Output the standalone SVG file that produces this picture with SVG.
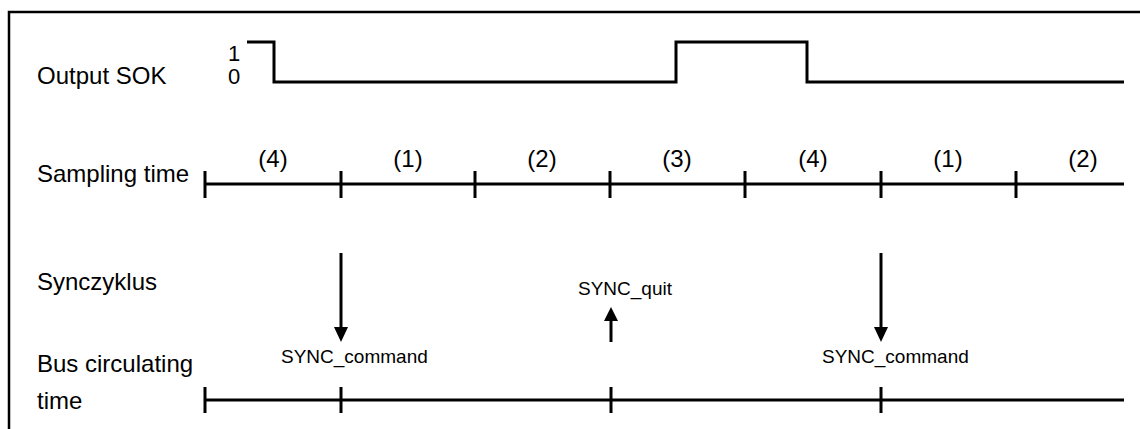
<svg xmlns="http://www.w3.org/2000/svg" width="1140" height="429" viewBox="0 0 1140 429">
<style>
.t{font-family:"Liberation Sans",Arial,sans-serif;font-size:24px;fill:#000}
.d{font-family:"Liberation Sans",Arial,sans-serif;font-size:22px;fill:#000}
.s{font-family:"Liberation Sans",Arial,sans-serif;font-size:19px;fill:#000}
.c{text-anchor:middle}
.ln{stroke:#000;stroke-width:3;fill:none}
</style>
<rect width="1140" height="429" fill="#fff"/>
<path d="M9,429 V12 H1140" stroke="#000" stroke-width="2.5" fill="none"/>
<g id="output-sok">
<text class="t" x="37" y="84">Output SOK</text>
<text class="d" x="228" y="61">1</text>
<text class="d" x="228" y="84">0</text>
<path class="ln" d="M247,42 H274 V82 H676 V42 H807 V82 H1124"/>
</g>
<g id="sampling-time">
<text class="t" x="37" y="182">Sampling time</text>
<path class="ln" d="M205,184 H1124 M205,171 V198 M341,171 V198 M475,171 V198 M610,171 V198 M745,171 V198 M881,171 V198 M1016,171 V198"/>
<text class="t c" x="273" y="167">(4)</text>
<text class="t c" x="408" y="167">(1)</text>
<text class="t c" x="542" y="167">(2)</text>
<text class="t c" x="677" y="167">(3)</text>
<text class="t c" x="813" y="167">(4)</text>
<text class="t c" x="948" y="167">(1)</text>
<text class="t c" x="1083" y="167">(2)</text>
</g>
<g id="synczyklus">
<text class="t" x="37" y="290">Synczyklus</text>
</g>
<g id="bus-circulating-time">
<text class="t" x="37" y="372">Bus circulating</text>
<text class="t" x="37" y="409">time</text>
<path class="ln" d="M205,400 H1124 M205,387 V413 M341,387 V413 M611,387 V413 M881,387 V413"/>
</g>
<g id="connectors">
<line class="ln" x1="341" y1="253" x2="341" y2="329"/>
<path d="M334,327 H348 L341,342 Z" fill="#000"/>
<line class="ln" x1="611" y1="342" x2="611" y2="319"/>
<path d="M604,321 H618 L611,307 Z" fill="#000"/>
<line class="ln" x1="881" y1="253" x2="881" y2="329"/>
<path d="M874,327 H888 L881,342 Z" fill="#000"/>
</g>
<g id="labels">
<text class="s" x="281" y="363">SYNC_command</text>
<text class="s" x="578" y="295">SYNC_quit</text>
<text class="s" x="822" y="363">SYNC_command</text>
</g>
</svg>
